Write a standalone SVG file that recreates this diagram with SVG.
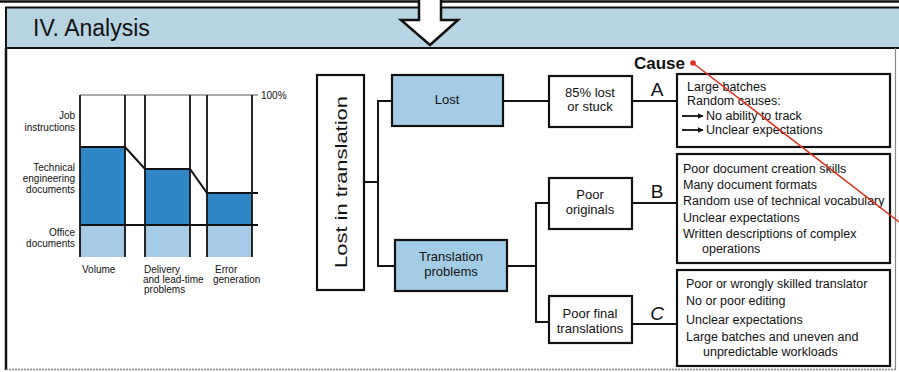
<svg xmlns="http://www.w3.org/2000/svg" width="899" height="372" viewBox="0 0 899 372">
<style>
text{font-family:"Liberation Sans","DejaVu Sans",sans-serif;fill:#111}
.box{fill:#fff;stroke:#111;stroke-width:2.2}
.blue{fill:#a3cde6;stroke:#111;stroke-width:2.2}
.ln{fill:none;stroke:#111;stroke-width:2}
.ch{font-size:10px}
.fl{font-size:13px;text-anchor:middle}
.li{font-size:12.5px}
.let{font-size:19px;text-anchor:middle}
</style>
<defs>
<marker id="ah" viewBox="0 0 10 10" refX="9" refY="5" markerWidth="6" markerHeight="6" orient="auto" markerUnits="userSpaceOnUse"><path d="M0,0 L10,5 L0,10 z" fill="#111"/></marker>
</defs>
<rect x="0" y="0" width="899" height="372" fill="#fff"/>
<g id="frame">
<line x1="0" y1="1.5" x2="899" y2="1.5" stroke="#111" stroke-width="2.5"/>
<rect x="6" y="7.5" width="895" height="40.5" fill="#b7d4e3" stroke="#111" stroke-width="2"/>
<line x1="6" y1="48" x2="6" y2="370" stroke="#111" stroke-width="2.5"/>
<line x1="895.5" y1="48" x2="895.5" y2="369" stroke="#888" stroke-width="1.2"/>
<line x1="6" y1="369.5" x2="896" y2="369.5" stroke="#888" stroke-width="1.5" stroke-dasharray="2 1"/>
<text x="33" y="36" font-size="23">IV. Analysis</text>
</g>
<g id="arrow">
<polygon points="419,0 419,20 401,20 430,45 458,20 441,20 441,0" fill="#fff"/>
<path d="M419,0 V20 H401 L430,45 L458,20 H441 V0" fill="none" stroke="#111" stroke-width="2.5" stroke-linejoin="miter"/>
</g>
<g id="chart">
<rect x="80" y="147" width="45" height="78" fill="#2f87c7"/>
<rect x="145" y="169" width="45" height="56" fill="#2f87c7"/>
<rect x="207" y="193" width="45" height="32" fill="#2f87c7"/>
<rect x="80" y="225" width="45" height="32" fill="#a6cbe6"/>
<rect x="145" y="225" width="45" height="32" fill="#a6cbe6"/>
<rect x="207" y="225" width="45" height="32" fill="#a6cbe6"/>
<line x1="80" y1="95" x2="258" y2="95" stroke="#555" stroke-width="1.2"/>
<line x1="80" y1="225" x2="258" y2="225" stroke="#111" stroke-width="1.8"/>
<polyline points="80,147 125,147 145,169 190,169 207,193 258,193" fill="none" stroke="#111" stroke-width="2"/>
<g stroke="#111" stroke-width="1.8">
<line x1="80" y1="95" x2="80" y2="257"/>
<line x1="125" y1="95" x2="125" y2="257"/>
<line x1="145" y1="95" x2="145" y2="257"/>
<line x1="190" y1="95" x2="190" y2="257"/>
<line x1="207" y1="95" x2="207" y2="257"/>
<line x1="252" y1="95" x2="252" y2="257"/>
</g>
<text class="ch" x="261" y="99">100%</text>
<g text-anchor="end">
<text class="ch" x="75" y="119">Job</text>
<text class="ch" x="75" y="131">instructions</text>
<text class="ch" x="75" y="171">Technical</text>
<text class="ch" x="75" y="182">engineering</text>
<text class="ch" x="75" y="193">documents</text>
<text class="ch" x="75" y="236">Office</text>
<text class="ch" x="75" y="247">documents</text>
</g>
<text class="ch" x="82" y="273">Volume</text>
<text class="ch" x="144" y="273">Delivery</text>
<text class="ch" x="143" y="283">and lead-time</text>
<text class="ch" x="144" y="293">problems</text>
<text class="ch" x="215" y="273">Error</text>
<text class="ch" x="213" y="283">generation</text>
</g>
<g id="connectors">
<polyline class="ln" points="364,182 378,182"/>
<polyline class="ln" points="392,101 378,101 378,266 395,266"/>
<line class="ln" x1="503" y1="101" x2="549" y2="101"/>
<line class="ln" x1="632" y1="101" x2="677" y2="101"/>
<line class="ln" x1="507" y1="266" x2="536" y2="266"/>
<polyline class="ln" points="549,203 536,203 536,322 549,322"/>
<line class="ln" x1="632" y1="203" x2="677" y2="203"/>
<line class="ln" x1="632" y1="324" x2="677" y2="324"/>
</g>
<g id="n-root">
<rect class="box" x="317" y="75" width="47" height="215"/>
<text transform="translate(347,182) rotate(-90)" font-size="17" text-anchor="middle" textLength="172" lengthAdjust="spacingAndGlyphs">Lost in translation</text>
</g>
<g id="n-lost">
<rect class="blue" x="392" y="75" width="111" height="51"/>
<text class="fl" x="447" y="104" font-size="14">Lost</text>
</g>
<g id="n-trans">
<rect class="blue" x="395" y="240" width="112" height="51"/>
<text class="fl" x="451" y="261">Translation</text>
<text class="fl" x="451" y="276">problems</text>
</g>
<g id="n-85">
<rect class="box" x="549" y="76" width="83" height="51"/>
<text class="fl" x="590" y="97">85% lost</text>
<text class="fl" x="590" y="111">or stuck</text>
</g>
<g id="n-orig">
<rect class="box" x="549" y="178" width="83" height="51"/>
<text class="fl" x="590" y="199">Poor</text>
<text class="fl" x="590" y="214">originals</text>
</g>
<g id="n-final">
<rect class="box" x="549" y="296" width="83" height="47"/>
<text class="fl" x="590" y="318">Poor final</text>
<text class="fl" x="590" y="333">translations</text>
</g>
<g id="labels">
<text x="634" y="69" font-size="17" font-weight="bold">Cause</text>
<text class="let" x="657" y="96">A</text>
<text class="let" x="657" y="198">B</text>
<text class="let" x="657" y="320" font-style="italic">C</text>
</g>
<g id="n-A">
<rect class="box" x="677" y="74" width="213" height="73"/>
<text class="li" x="687" y="91">Large batches</text>
<text class="li" x="687" y="105">Random causes:</text>
<line x1="682" y1="116" x2="703" y2="116" stroke="#111" stroke-width="1.8" marker-end="url(#ah)"/>
<text class="li" x="706" y="120">No ability to track</text>
<line x1="682" y1="130" x2="703" y2="130" stroke="#111" stroke-width="1.8" marker-end="url(#ah)"/>
<text class="li" x="706" y="134">Unclear expectations</text>
</g>
<g id="n-B">
<rect class="box" x="677" y="154" width="213" height="109"/>
<text class="li" x="683" y="173">Poor document creation skills</text>
<text class="li" x="683" y="189">Many document formats</text>
<text class="li" x="683" y="205">Random use of technical vocabulary</text>
<text class="li" x="683" y="222">Unclear expectations</text>
<text class="li" x="683" y="238">Written descriptions of complex</text>
<text class="li" x="702" y="253">operations</text>
</g>
<g id="n-C">
<rect class="box" x="677" y="270" width="213" height="96"/>
<text class="li" x="686" y="288">Poor or wrongly skilled translator</text>
<text class="li" x="686" y="305">No or poor editing</text>
<text class="li" x="686" y="324">Unclear expectations</text>
<text class="li" x="686" y="341">Large batches and uneven and</text>
<text class="li" x="703" y="356">unpredictable workloads</text>
</g>
<g id="redmark">
<line x1="693" y1="63" x2="899" y2="222" stroke="#e0301e" stroke-width="1.5"/>
<circle cx="693" cy="63" r="2.8" fill="#e0301e"/>
</g>
</svg>
